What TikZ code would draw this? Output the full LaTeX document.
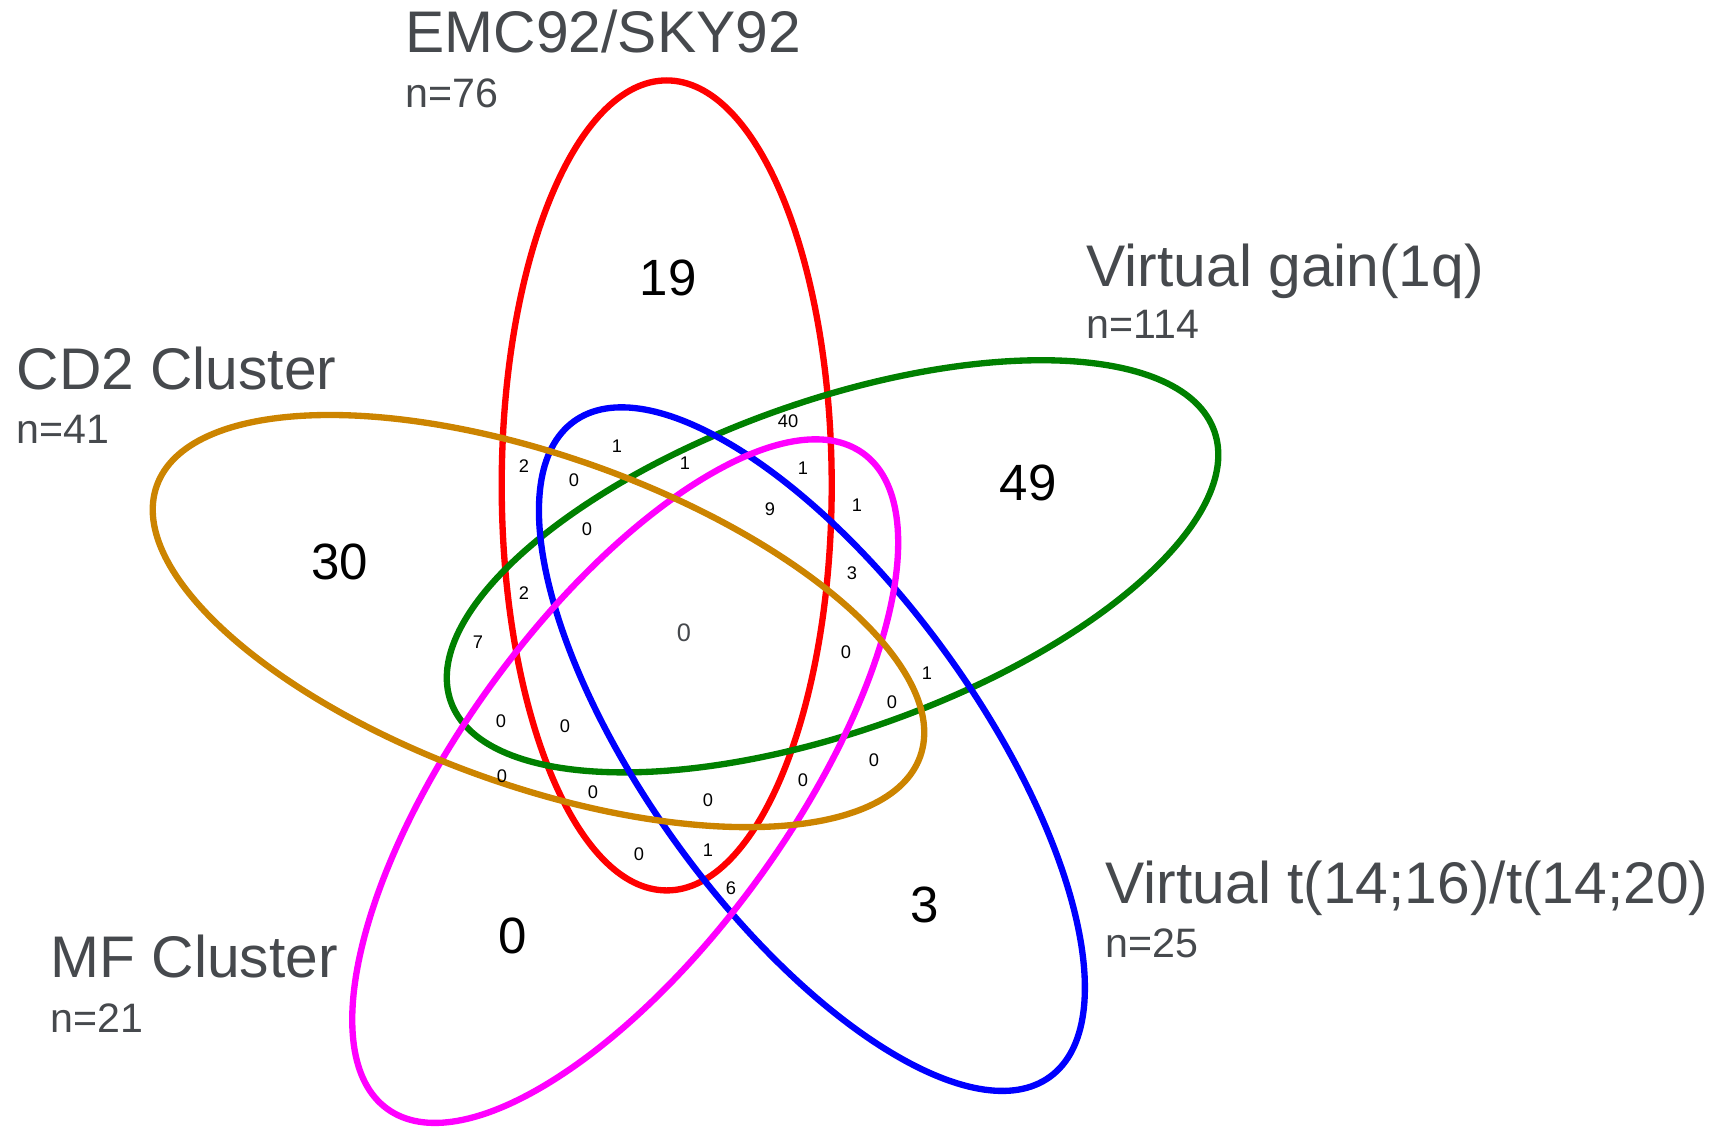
\documentclass[tikz,border=0pt]{standalone}
\usepackage{fontspec}
\setmainfont{Liberation Sans}
\usepackage{tikz}
\definecolor{emc}{HTML}{FF0000}
\definecolor{gain}{HTML}{008000}
\definecolor{trans}{HTML}{0000FF}
\definecolor{mf}{HTML}{FF00FF}
\definecolor{cdtwo}{HTML}{CC8400}
\definecolor{labelgray}{HTML}{46494D}

\begin{document}
\begin{tikzpicture}[x=0.01cm, y=0.01cm, every path/.style={line cap=round}]

        \tikzset{set/.style = {line width=1.8pt}}
        \tikzset{setname/.style = {anchor=base west, inner sep=0pt, text=labelgray, font=\fontsize{16.7}{20}\selectfont}}
        \tikzset{setsize/.style = {anchor=base west, inner sep=0pt, text=labelgray, font=\fontsize{11.7}{14}\selectfont}}
        \tikzset{big/.style = {inner sep=0pt, font=\fontsize{14.5}{17}\selectfont}}
        \tikzset{small/.style = {inner sep=0pt, font=\fontsize{5.2}{6}\selectfont}}

        \useasboundingbox (0,0) rectangle (1710,-1129);

        \coordinate (E) at (666.7,-485.4);
        \coordinate (G) at (832.6,-566.3);
        \coordinate (T) at (811.9,-749.1);
        \coordinate (M) at (625.2,-781.1);
        \coordinate (C) at (538.5,-621.1);

        \draw[set, emc, rotate around={90:(E)}] (E) ellipse [x radius=405, y radius=165];
        \draw[set, gain, rotate around={19.5:(G)}] (G) ellipse [x radius=405, y radius=165];
        \draw[set, trans, rotate around={-54:(T)}] (T) ellipse [x radius=405, y radius=165];
        \draw[set, mf, rotate around={54:(M)}] (M) ellipse [x radius=405, y radius=165];
        \draw[set, cdtwo, rotate around={-19.5:(C)}] (C) ellipse [x radius=405, y radius=165];

        % set names
        \node[setname] (nE) at (405,-52) {EMC92/SKY92};
        \node[setsize] (sE) at (405,-107) {n=76};
        \node[setname] (nG) at (1086,-286) {Virtual gain(1q)};
        \node[setsize] (sG) at (1086,-338) {n=114};
        \node[setname] (nC) at (16,-389) {CD2 Cluster};
        \node[setsize] (sC) at (16,-443) {n=41};
        \node[setname] (nM) at (50,-977) {MF Cluster};
        \node[setsize] (sM) at (50,-1032) {n=21};
        \node[setname] (nT) at (1105,-903) {Virtual t(14;16)/t(14;20)};
        \node[setsize] (sT) at (1105,-957) {n=25};

        % only one set
        \node[big] (1) at (668,-278) {19};
        \node[big] (2) at (1028,-483) {49};
        \node[big] (3) at (340,-562) {30};
        \node[big] (4) at (513,-936) {0};
        \node[big] (5) at (925,-905) {3};

        % all five
        \node[inner sep=0pt, text=labelgray, font=\fontsize{7.2}{8}\selectfont] (6) at (684,-633) {0};

        \node[small] (7) at (788,-421) {40};
        \node[small] (8) at (617,-446) {1};
        \node[small] (9) at (524,-466) {2};
        \node[small] (10) at (574,-480) {0};
        \node[small] (11) at (685,-463) {1};
        \node[small] (12) at (803,-468) {1};
        \node[small] (13) at (857,-505) {1};
        \node[small] (14) at (770,-509) {9};
        \node[small] (15) at (587,-529) {0};
        \node[small] (16) at (852,-573) {3};
        \node[small] (17) at (524,-593) {2};
        \node[small] (18) at (478,-642) {7};
        \node[small] (19) at (846,-652) {0};
        \node[small] (20) at (927,-673) {1};
        \node[small] (21) at (892,-702) {0};
        \node[small] (22) at (501,-721) {0};
        \node[small] (23) at (565,-726) {0};
        \node[small] (24) at (874,-760) {0};
        \node[small] (25) at (502,-776) {0};
        \node[small] (26) at (803,-780) {0};
        \node[small] (27) at (593,-792) {0};
        \node[small] (28) at (708,-800) {0};
        \node[small] (29) at (639,-854) {0};
        \node[small] (30) at (708,-850) {1};
        \node[small] (31) at (731,-888) {6};

\end{tikzpicture}
\end{document}
